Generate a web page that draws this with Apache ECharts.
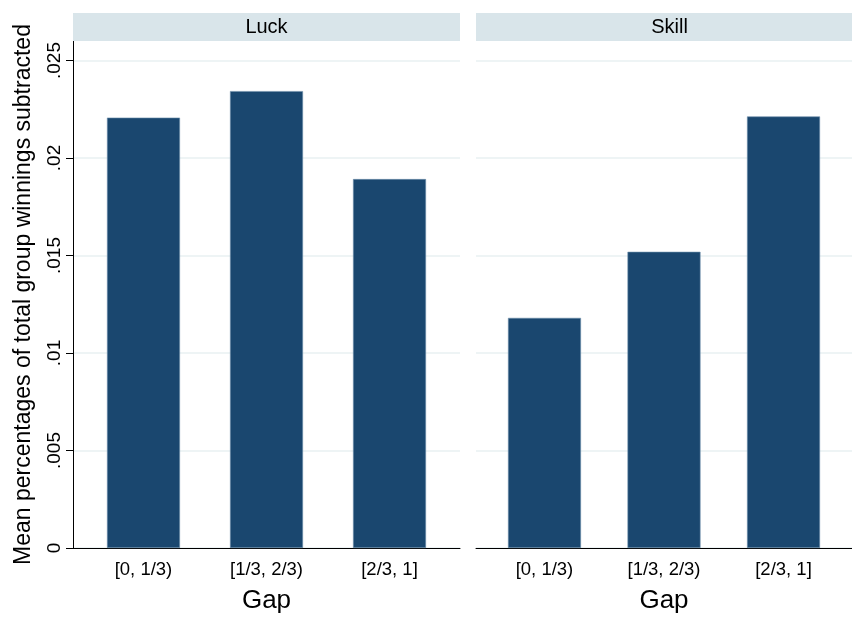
<!DOCTYPE html>
<html>
<head>
<meta charset="utf-8">
<script src="https://cdn.jsdelivr.net/npm/echarts@6/dist/echarts.min.js"></script>
<style>
  html, body { margin: 0; padding: 0; background: #fff; }
  #chart { width: 852px; height: 619px; }
</style>
</head>
<body>
<div id="chart"></div>
<script>
// bins of the gap, same for both panels
const categories = ['[0, 1/3)', '[1/3, 2/3)', '[2/3, 1]']
const panels = ['Luck', 'Skill']
// mean share of group winnings subtracted
const luckValues = [0.02207, 0.02343, 0.01892]
const skillValues = [0.0118, 0.01519, 0.02213]
const yTicks = [0, 0.005, 0.01, 0.015, 0.02, 0.025]

const barColor = '#1a476f'
const gridColor = '#e9f0f2'
const stripColor = '#d9e5ea'
const font = '"Liberation Sans", Arial, sans-serif'

const chart = echarts.init(document.getElementById('chart'))

const fmtY = (v) => (v === 0 ? '0' : String(+v.toFixed(3)).replace(/^0/, ''))

const xAxisFor = (gridIndex) => ({
  gridIndex,
  type: 'value',
  min: -0.573,
  max: 2.573,
  name: 'Gap',
  nameLocation: 'middle',
  nameGap: 40,
  nameTextStyle: { fontFamily: font, fontSize: 26, color: '#000' },
  axisLine: { show: true, onZero: false, lineStyle: { color: '#000', width: 1 } },
  axisTick: { show: false },
  splitLine: { show: false },
  axisLabel: {
    customValues: [0, 1, 2],
    formatter: (v) => categories[Math.round(v)],
    fontFamily: font,
    fontSize: 18.5,
    color: '#000',
    margin: 12
  }
})

const yAxisFor = (gridIndex, withLabels) => ({
  gridIndex,
  type: 'value',
  min: 0,
  max: 0.026,
  name: withLabels ? 'Mean percentages of total group winnings subtracted' : '',
  nameLocation: 'middle',
  nameRotate: 90,
  nameGap: 38,
  nameTextStyle: { fontFamily: font, fontSize: 23, color: '#000' },
  axisLine: { show: withLabels, onZero: false, lineStyle: { color: '#000', width: 1 } },
  axisTick: {
    show: withLabels,
    customValues: yTicks,
    length: 7,
    lineStyle: { color: '#000', width: 1 }
  },
  axisLabel: {
    show: withLabels,
    customValues: yTicks,
    formatter: fmtY,
    rotate: 90,
    fontFamily: font,
    fontSize: 19,
    color: '#000',
    margin: 9
  },
  splitLine: { show: true, lineStyle: { color: gridColor, width: 1.5 } }
})

const seriesFor = (idx, values) => ({
  type: 'bar',
  xAxisIndex: idx,
  yAxisIndex: idx,
  barWidth: 73,
  data: values.map((v, i) => [i, v]),
  itemStyle: { color: barColor, borderColor: '#6d8fab', borderWidth: 0.6 },
  silent: true
})

const option = {
  backgroundColor: '#fff',
  animation: false,
  grid: [
    { left: 73, top: 41, width: 387, height: 514 },
    { left: 476, top: 41, width: 387, height: 514 }
  ],
  xAxis: [xAxisFor(0), xAxisFor(1)],
  yAxis: [yAxisFor(0, true), yAxisFor(1, false)],
  series: [seriesFor(0, luckValues), seriesFor(1, skillValues)],
  graphic: [
    // panel header strips
    {
      type: 'rect', z: 100,
      shape: { x: 73, y: 13, width: 387, height: 28 },
      style: { fill: stripColor }
    },
    {
      type: 'rect', z: 100,
      shape: { x: 476, y: 13, width: 387, height: 28 },
      style: { fill: stripColor }
    },
    {
      type: 'text', z: 101, x: 266.5, y: 27,
      style: { text: panels[0], fill: '#000', font: '20px ' + font, align: 'center', verticalAlign: 'middle' }
    },
    {
      type: 'text', z: 101, x: 669.5, y: 27,
      style: { text: panels[1], fill: '#000', font: '20px ' + font, align: 'center', verticalAlign: 'middle' }
    }
  ]
}

chart.setOption(option)
</script>
</body>
</html>
